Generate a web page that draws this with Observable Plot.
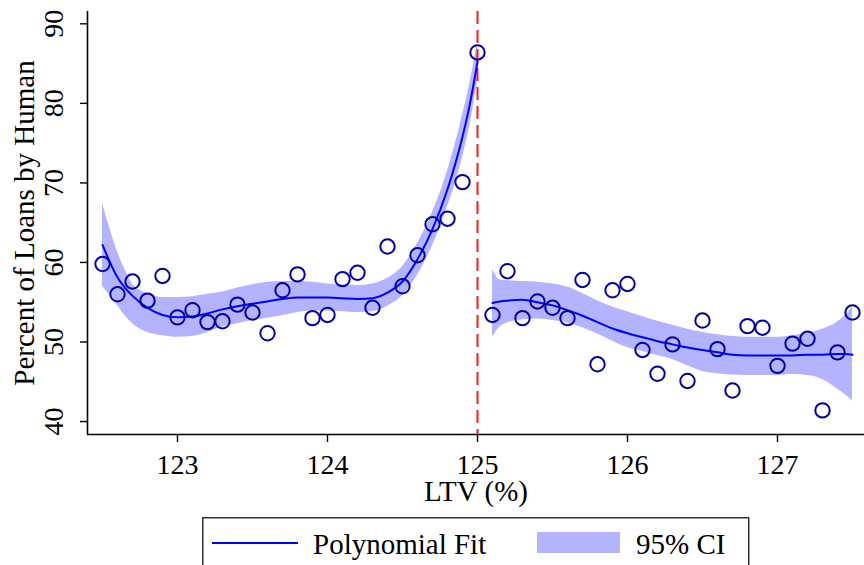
<!DOCTYPE html>
<html>
<head>
<meta charset="utf-8">
<script src="https://cdn.jsdelivr.net/npm/d3@7"></script>
<script src="https://cdn.jsdelivr.net/npm/@observablehq/plot@0.6"></script>
<style>
  body { margin: 0; background: #fff; }
  #wrap { position: relative; width: 864px; height: 565px; overflow: hidden; background: #fff;
          font-family: "Liberation Serif", "Times New Roman", serif; }
  #legend { position: absolute; left: 0; top: 510px; }
</style>
</head>
<body>
<div id="wrap">
  <div id="chart"></div>
  <svg id="legend" width="864" height="70"></svg>
</div>
<script>
// ---- Binned scatter (LTV bin, percent of loans by human) ----
const binX = [122.5,122.6,122.7,122.8,122.9,123.0,123.1,123.2,123.3,123.4,123.5,123.6,123.7,123.8,123.9,124.0,124.1,124.2,124.3,124.4,124.5,124.6,124.7,124.8,124.9,125.0,
              125.1,125.2,125.3,125.4,125.5,125.6,125.7,125.8,125.9,126.0,126.1,126.2,126.3,126.4,126.5,126.6,126.7,126.8,126.9,127.0,127.1,127.2,127.3,127.4,127.5];
const binY = [59.8,56.0,57.6,55.2,58.3,53.1,54.0,52.5,52.6,54.7,53.7,51.1,56.5,58.5,53.0,53.4,57.9,58.7,54.3,62.0,57.0,60.9,64.8,65.5,70.1,86.4,
              53.4,58.9,53.0,55.1,54.3,53.0,57.8,47.2,56.5,57.3,49.0,46.0,49.7,45.1,52.7,49.1,43.9,52.0,51.8,47.0,49.8,50.4,41.4,48.7,53.7];

// ---- Polynomial fit and 95% CI, left of cutoff ----
const leftFitX = [122.5,122.55,122.6,122.65,122.7,122.8,122.9,123.0,123.1,123.2,123.3,123.4,123.5,123.6,123.7,123.8,123.9,124.0,124.1,124.2,124.3,124.4,124.5,124.6,124.7,124.8,124.9,124.95,125.0];
const leftFit  = [62.2,60.0,58.1,56.8,55.8,54.3,53.4,53.1,53.2,53.6,54.1,54.5,54.8,55.1,55.4,55.6,55.6,55.6,55.5,55.4,55.5,56.2,57.6,60.4,64.2,69.2,75.8,80.0,85.2];
const leftHi   = [67.4,64.2,61.3,59.1,57.3,56.1,55.6,55.6,55.7,56.0,56.3,56.8,57.2,57.5,57.6,57.6,57.5,57.3,57.2,57.1,57.3,58.0,59.5,62.4,66.3,71.5,78.5,82.6,87.6];
const leftLo   = [57.0,55.8,54.6,53.3,52.3,51.2,50.8,50.6,50.7,51.2,51.9,52.3,52.7,53.0,53.3,53.7,53.9,53.9,53.8,53.7,53.8,54.5,55.8,58.4,62.1,67.0,73.2,77.3,82.8];

// ---- Polynomial fit and 95% CI, right of cutoff ----
const rightFitX = [125.1,125.15,125.2,125.3,125.4,125.5,125.6,125.7,125.8,125.9,126.0,126.1,126.2,126.3,126.4,126.5,126.6,126.7,126.8,126.9,127.0,127.1,127.2,127.3,127.4,127.45,127.5];
const rightFit  = [54.9,55.1,55.2,55.3,55.0,54.6,54.0,53.3,52.5,51.7,51.1,50.6,50.1,49.7,49.3,49.0,48.7,48.4,48.3,48.3,48.3,48.3,48.4,48.4,48.5,48.5,48.4];
const rightHi   = [59.1,57.8,57.7,57.6,57.5,57.3,56.9,56.1,55.2,54.4,53.8,53.2,52.6,52.1,51.6,51.2,50.9,50.7,50.6,50.6,50.6,50.8,51.1,51.6,52.5,53.3,54.4];
const rightLo   = [50.6,51.9,52.4,52.8,52.9,52.7,52.4,51.8,51.0,50.1,49.3,48.8,48.3,47.8,47.0,46.3,46.0,45.85,45.8,45.8,45.8,45.9,45.8,45.3,44.1,43.4,42.6];

// ---- Axes / labels ----
const cutoff = [125];
const xTicks = [123, 124, 125, 126, 127];
const yTicks = [40, 50, 60, 70, 80, 90];
const xDomain = [122.4, 127.58];
const yDomain = [38.37, 91.55];
const xTitle = "LTV (%)";
const yTitle = "Percent of Loans by Human";
const legendLabels = ["Polynomial Fit", "95% CI"];

// ---- Build tables ----
const points = binX.map((x, i) => ({x, y: binY[i]}));
const fitRows = [
  ...leftFitX.map((x, i) => ({seg: "left", x, fit: leftFit[i], lo: leftLo[i], hi: leftHi[i]})),
  ...rightFitX.map((x, i) => ({seg: "right", x, fit: rightFit[i], lo: rightLo[i], hi: rightHi[i]}))
];

const FONT = '"Liberation Serif", "Times New Roman", serif';
const BAND = "#b3b3ff", LINE = "#0000ff", DOT = "#0000a6";

const chart = Plot.plot({
  width: 864,
  height: 510,
  marginLeft: 87,
  marginRight: 0,
  marginTop: 11,
  marginBottom: 76,
  x: {domain: xDomain},
  y: {domain: yDomain},
  style: {fontFamily: FONT, fontSize: "28px", background: "#fff", color: "#000", overflow: "visible"},
  marks: [
    Plot.areaY(fitRows, {x: "x", y1: "lo", y2: "hi", z: "seg", fill: BAND, fillOpacity: 1, curve: "monotone-x"}),
    Plot.ruleX(cutoff, {stroke: "#ff1a1a", strokeWidth: 2, strokeDasharray: "13,6"}),
    Plot.line(fitRows, {x: "x", y: "fit", z: "seg", stroke: LINE, strokeWidth: 2, curve: "monotone-x"}),
    Plot.dot(points, {x: "x", y: "y", r: 7.2, stroke: DOT, strokeWidth: 2, fill: "none"}),
    Plot.ruleX([xDomain[0]], {stroke: "#000", strokeWidth: 1.6}),
    Plot.ruleY([yDomain[0]], {stroke: "#000", strokeWidth: 1.6}),
    Plot.axisX({ticks: xTicks, tickSize: 8, tickPadding: 12, tickFormat: d => String(d), label: null, fontSize: 28, strokeWidth: 1.4}),
    Plot.axisY({ticks: yTicks, tickSize: 7, tickPadding: 18, tickRotate: -90, tickFormat: d => String(d), label: null, fontSize: 28, strokeWidth: 1.4}),
    Plot.text([xTitle], {text: d => d, frameAnchor: "bottom", lineAnchor: "middle", textAnchor: "middle", dy: 57, fontSize: 29, fill: "#000"}),
    Plot.text([yTitle], {text: d => d, frameAnchor: "left", lineAnchor: "middle", textAnchor: "middle", rotate: -90, dx: -63, fontSize: 29, fill: "#000"})
  ]
});
document.getElementById("chart").appendChild(chart);

// ---- Legend (below the plot) ----
const lg = d3.select("#legend");
lg.append("rect").attr("x", 202.75).attr("y", 7.75).attr("width", 546).attr("height", 80)
  .attr("fill", "none").attr("stroke", "#333").attr("stroke-width", 1.5);
lg.append("line").attr("x1", 212).attr("x2", 298).attr("y1", 33).attr("y2", 33)
  .attr("stroke", LINE).attr("stroke-width", 2);
lg.append("text").attr("x", 313).attr("y", 44).attr("font-family", FONT).attr("font-size", 29)
  .attr("fill", "#000").text(legendLabels[0]);
lg.append("rect").attr("x", 537).attr("y", 22).attr("width", 83).attr("height", 21).attr("fill", BAND);
lg.append("text").attr("x", 636).attr("y", 44).attr("font-family", FONT).attr("font-size", 29)
  .attr("fill", "#000").text(legendLabels[1]);
</script>
</body>
</html>
